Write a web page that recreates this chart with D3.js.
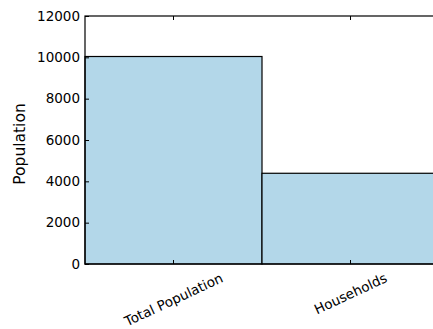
<!DOCTYPE html>
<html>
<head>
<meta charset="utf-8">
<script src="https://cdn.jsdelivr.net/npm/d3@7"></script>
<style>
  html, body { margin: 0; padding: 0; background: #fff; }
  svg { display: block; font-family: "DejaVu Sans", sans-serif; }
</style>
</head>
<body>
<svg id="chart" width="433" height="329"></svg>
<script>
// Data
const categories = ["Total Population", "Households"];
const values = [10040, 4390];
const yTicks = [0, 2000, 4000, 6000, 8000, 10000, 12000];

const svg = d3.select("#chart");
const margin = { left: 85, top: 16, bottom: 264 };
const barW = 177;
const plotRight = margin.left + barW * categories.length;
const tickFont = 13.5;

const x = d3.scaleBand().domain(categories).range([margin.left, plotRight]).padding(0);
const y = d3.scaleLinear().domain([0, 12000]).range([margin.bottom, margin.top]);

// Bars
svg.append("g").selectAll("rect")
  .data(categories)
  .join("rect")
  .attr("x", d => x(d))
  .attr("y", (d, i) => y(values[i]))
  .attr("width", x.bandwidth())
  .attr("height", (d, i) => y(0) - y(values[i]))
  .attr("fill", "#b3d7e9")
  .attr("stroke", "#000")
  .attr("stroke-width", 1.2);

// Frame
svg.append("rect")
  .attr("x", margin.left).attr("y", margin.top)
  .attr("width", plotRight - margin.left).attr("height", margin.bottom - margin.top)
  .attr("fill", "none").attr("stroke", "#000").attr("stroke-width", 1.2);

// Y axis (ticks pointing inward)
const yAxis = d3.axisLeft(y).tickValues(yTicks).tickSizeInner(-4).tickSizeOuter(0).tickPadding(5)
  .tickFormat(d3.format("d"));
const gy = svg.append("g").attr("transform", `translate(${margin.left},0)`).call(yAxis);
gy.select(".domain").remove();
gy.selectAll("text").attr("font-size", tickFont).attr("fill", "#000").attr("font-family", "DejaVu Sans");
gy.selectAll("line").attr("stroke", "#000");

// X axis ticks (inward, bottom and top)
const xb = d3.axisBottom(x).tickSizeInner(-4).tickSizeOuter(0).tickFormat("");
const gxb = svg.append("g").attr("transform", `translate(0,${margin.bottom})`).call(xb);
gxb.select(".domain").remove();
gxb.selectAll("line").attr("stroke", "#000");
const xt = d3.axisTop(x).tickSizeInner(-4).tickSizeOuter(0).tickFormat("");
const gxt = svg.append("g").attr("transform", `translate(0,${margin.top})`).call(xt);
gxt.select(".domain").remove();
gxt.selectAll("line").attr("stroke", "#000");

// Rotated category labels, bounding box centered under the tick
const angle = 25;
const rad = angle * Math.PI / 180;
const labelTop = 270;
categories.forEach(c => {
  const cx = x(c) + x.bandwidth() / 2;
  const t = svg.append("text")
    .attr("font-size", tickFont)
    .attr("text-anchor", "middle")
    .attr("dominant-baseline", "central")
    .attr("fill", "#000")
    .text(c);
  const w = t.node().getComputedTextLength();
  const h = tickFont * 1.1;
  const H = w * Math.sin(rad) + h * Math.cos(rad);
  const cy = labelTop + H / 2;
  t.attr("transform", `translate(${cx},${cy}) rotate(${-angle})`);
});

// Y axis title
svg.append("text")
  .attr("transform", `translate(25,${(margin.top + margin.bottom) / 2 + 4}) rotate(-90)`)
  .attr("text-anchor", "middle")
  .attr("font-size", 15.5)
  .attr("fill", "#000")
  .text("Population");
</script>
</body>
</html>
